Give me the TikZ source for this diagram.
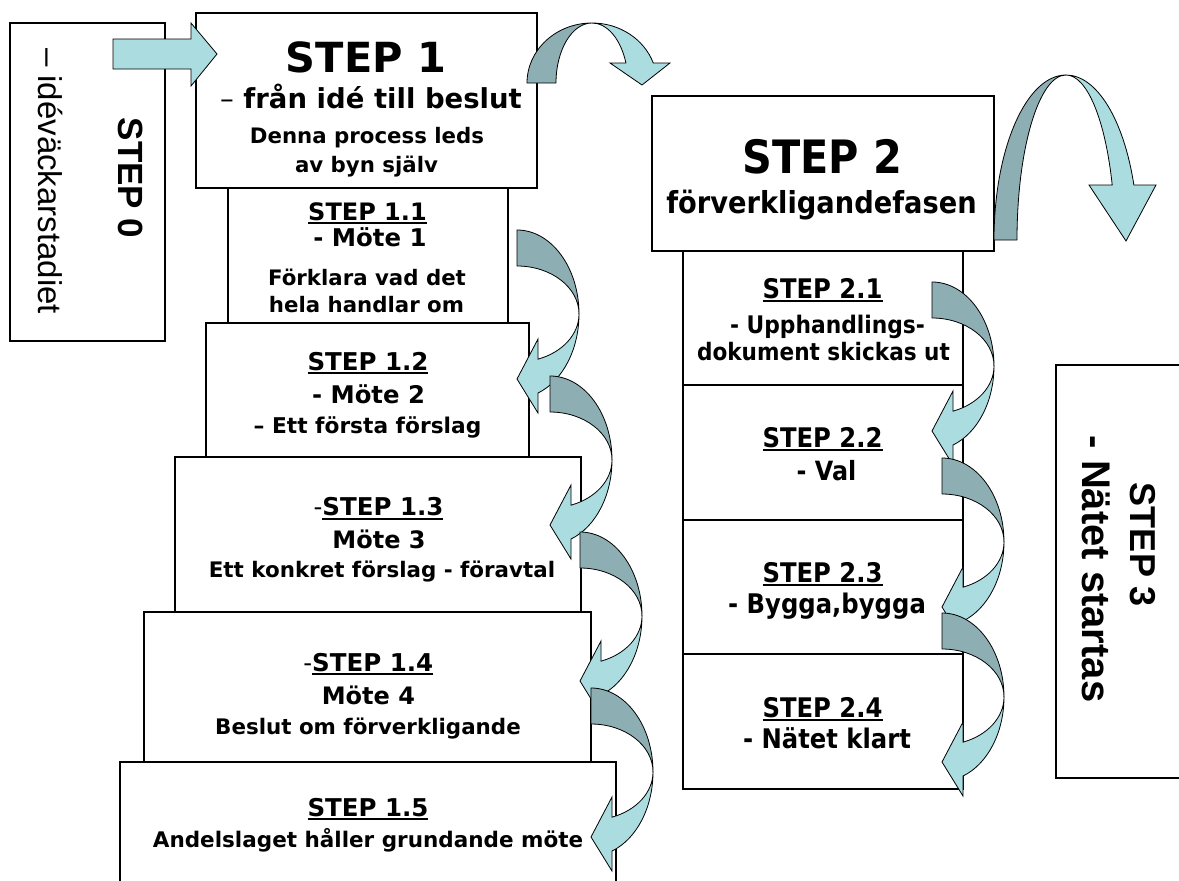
\documentclass[tikz,border=0pt]{standalone}
\usepackage{fontspec}
\setmainfont{DejaVu Sans}
\newfontfamily\verd{DejaVu Sans}
\newfontfamily\taho{DejaVu Sans}[FakeStretch=0.9]
\newfontfamily\ari{Liberation Sans}
\definecolor{lightband}{HTML}{ABDCE0}
\definecolor{darkband}{HTML}{8DAEB3}
\newcommand\fsz[1]{\fontsize{#1}{#1}\selectfont}
\newsavebox\ulbox
\newcommand\uln[1]{\sbox\ulbox{#1}\rlap{\rule[-0.165em]{\wd\ulbox}{0.085em}}\usebox\ulbox}
% curved left arrow: #1 = left x, #2 = centre y of the ellipses
\newcommand\curvl[2]{%
  \draw[backband] ({#1},{#2-84}) arc[start angle=-90,end angle=0,x radius=62,y radius=84]
     arc[start angle=0,end angle=-90,x radius=62,y radius=48] -- cycle;
  \draw[frontband] ({#1+62},{#2}) arc[start angle=0,end angle=70.2,x radius=62,y radius=84]
     -- ++(0,20) -- ({#1},{#2+65}) -- ({#1+21},{#2+25}) -- ({#1+21},{#2+45.16})
     arc[start angle=70.2,end angle=0,x radius=62,y radius=48] -- cycle;}
\begin{document}
\begin{tikzpicture}[x=1pt,y=-1pt,
  box/.style={draw=black,line width=1.2pt,fill=white,inner sep=0pt,outer sep=0pt,anchor=north west},
  backband/.style={fill=darkband,draw=black,line width=0.8pt,line join=round},
  frontband/.style={fill=lightband,draw=black,line width=0.8pt,line join=miter},
  txt/.style={anchor=base,inner sep=0pt,outer sep=0pt,text=black},
  lt/.style={txt,font={\verd\bfseries\fsz{#1}}},
  rt/.style={txt,font={\taho\bfseries\fsz{#1}}}]
\useasboundingbox (0,0) rectangle (1179,881);
\clip (0,0) rectangle (1179,881);
\fill[white] (0,0) rectangle (1179,881);

% boxes
\node[box,minimum width=155,minimum height=318] (s0) at (10,23) {};
\node[box,minimum width=341,minimum height=175] (s1) at (196,13) {};
\node[box,minimum width=280,minimum height=135] (s11) at (228,188) {};
\node[box,minimum width=323,minimum height=134] (s12) at (206,323) {};
\node[box,minimum width=406,minimum height=155] (s13) at (175,457) {};
\node[box,minimum width=447,minimum height=150] (s14) at (144,612) {};
\node[box,minimum width=496,minimum height=140] (s15) at (120,762) {};
\node[box,minimum width=342,minimum height=155] (s2) at (652,96) {};
\node[box,minimum width=280,minimum height=134] (s21) at (683,251) {};
\node[box,minimum width=280,minimum height=135] (s22) at (683,385) {};
\node[box,minimum width=280,minimum height=134] (s23) at (683,520) {};
\node[box,minimum width=280,minimum height=135] (s24) at (683,654) {};
\node[box,minimum width=150,minimum height=413] (s3) at (1056,365) {};

% straight arrow STEP 0 -> STEP 1
\draw[frontband] (113,39) -- (191,39) -- (191,23) -- (217,54) -- (191,86) -- (191,69) -- (113,69) -- cycle;

% curved arrow STEP 1 -> STEP 2
\draw[backband] (527,83) arc[start angle=180,end angle=270,x radius=65,y radius=60]
   arc[start angle=270,end angle=180,x radius=36,y radius=60] -- cycle;
\draw[frontband] (592,23) arc[start angle=-90,end angle=-19.47,x radius=65,y radius=60]
   -- (670,63) -- (642,85) -- (610,63) -- (625.9,63)
   arc[start angle=-19.47,end angle=-90,x radius=36,y radius=60] -- cycle;

% curved arrow STEP 2 -> STEP 3
\draw[backband] (994,240) arc[start angle=180,end angle=270,x radius=72,y radius=165]
   arc[start angle=270,end angle=180,x radius=49,y radius=165] -- cycle;
\draw[frontband] (1066,75) arc[start angle=-90,end angle=-19.47,x radius=72,y radius=165]
   -- (1156,185) -- (1126,241) -- (1089,185) -- (1112.2,185)
   arc[start angle=-19.47,end angle=-90,x radius=49,y radius=165] -- cycle;

% curved arrows between the sub steps
\curvl{517}{314}
\curvl{550}{460}
\curvl{580}{616}
\curvl{591}{772}
\curvl{932}{366}
\curvl{942}{542}
\curvl{942}{697}

% STEP 0
\node[txt,rotate=-90,font={\ari\bfseries\fsz{35}}] (t0a) at (118,178) {STEP 0};
\node[txt,rotate=-90,font={\ari\fsz{33}}] (t0b) at (38,181) {– idéväckarstadiet};

% STEP 1
\node[lt=41.5] (t1a) at (366,72) {STEP 1};
\node[lt=27.5] (t1b) at (371,108) {{\mdseries –} från idé till beslut};
\node[lt=21.3] (t1c) at (367,143) {Denna process leds};
\node[lt=21.3] (t1d) at (366.5,172) {av byn själv};

\node[lt=24] (t11a) at (367.5,220) {\uln{STEP 1.1}};
\node[lt=24.4] (t11b) at (370,246) {- Möte 1};
\node[lt=21.3] (t11c) at (367,285) {Förklara vad det};
\node[lt=21.3] (t11d) at (366.5,312) {hela handlar om};

\node[lt=24.5] (t12a) at (368,370) {\uln{STEP 1.2}};
\node[lt=24.3] (t12b) at (368.5,403) {- Möte 2};
\node[lt=21.7] (t12c) at (367.5,433) {– Ett första förslag};

\node[lt=24.5] (t13a) at (378.5,515.6) {{\mdseries -}\uln{STEP 1.3}};
\node[lt=24] (t13b) at (379,548.6) {Möte 3};
\node[lt=21.4] (t13c) at (382,577.7) {Ett konkret förslag - föravtal};

\node[lt=24.5] (t14a) at (368.3,671) {{\mdseries -}\uln{STEP 1.4}};
\node[lt=24] (t14b) at (368.4,704) {Möte 4};
\node[lt=21.4] (t14c) at (368,734.6) {Beslut om förverkligande};

\node[lt=24.5] (t15a) at (368,816) {\uln{STEP 1.5}};
\node[lt=21.5] (t15b) at (368,847) {Andelslaget håller grundande möte};

% STEP 2
\node[rt=46] (t2a) at (822.5,173) {STEP 2};
\node[rt=30.3] (t2b) at (821.5,213) {förverkligandefasen};

\node[rt=27] (t21a) at (822.5,298) {\uln{STEP 2.1}};
\node[rt=24.2] (t21b) at (827.5,333) {- Upphandlings-};
\node[rt=24] (t21c) at (823.5,360) {dokument skickas ut};

\node[rt=27] (t22a) at (822.5,447) {\uln{STEP 2.2}};
\node[rt=26.5] (t22b) at (826.5,480) {- Val};

\node[rt=27] (t23a) at (822.5,582) {\uln{STEP 2.3}};
\node[rt=27] (t23b) at (827,613) {- Bygga,bygga};

\node[rt=27] (t24a) at (822.5,717) {\uln{STEP 2.4}};
\node[rt=27] (t24b) at (827,748) {- Nätet klart};

% STEP 3
\node[txt,rotate=-90,font={\ari\bfseries\fsz{36}}] (t3a) at (1130,545) {STEP 3};
\node[txt,rotate=-90,font={\ari\bfseries\fsz{40}}] (t3b) at (1082,569) {- Nätet startas};
\end{tikzpicture}
\end{document}
